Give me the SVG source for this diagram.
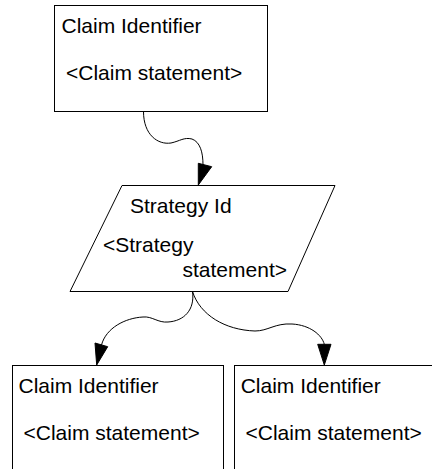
<svg xmlns="http://www.w3.org/2000/svg" width="432" height="469" viewBox="0 0 432 469">
  <style>
    .box { fill: #ffffff; stroke: #000000; stroke-width: 1; }
    .lbl { font-family: "Liberation Sans", Arial, sans-serif; font-size: 21px; fill: #000000; }
    .wire { fill: none; stroke: #000000; stroke-width: 1; }
    .head { fill: #000000; stroke: #000000; stroke-width: 1; stroke-linejoin: miter; }
  </style>
  <rect width="432" height="469" fill="#ffffff"/>

  <!-- goal at the top -->
  <g id="claim-top">
    <rect class="box" x="54.5" y="5.5" width="213" height="106"/>
    <text class="lbl" x="61.5" y="33">Claim Identifier</text>
    <text class="lbl" x="66" y="80">&lt;Claim statement&gt;</text>
  </g>

  <!-- strategy parallelogram -->
  <g id="strategy">
    <polygon class="box" points="122,185.5 335,185.5 288,291.5 70,291.5"/>
    <text class="lbl" x="130" y="212.5">Strategy Id</text>
    <text class="lbl" x="103" y="251.5">&lt;Strategy</text>
    <text class="lbl" x="182.5" y="277">statement&gt;</text>
  </g>

  <!-- sub-goals -->
  <g id="claim-left">
    <rect class="box" x="12.5" y="365.5" width="211" height="140"/>
    <text class="lbl" x="18.5" y="392.5">Claim Identifier</text>
    <text class="lbl" x="23.5" y="439.5">&lt;Claim statement&gt;</text>
  </g>
  <g id="claim-right">
    <rect class="box" x="234.5" y="365.5" width="230" height="140"/>
    <text class="lbl" x="240.7" y="392.5">Claim Identifier</text>
    <text class="lbl" x="245.5" y="439.5">&lt;Claim statement&gt;</text>
  </g>

  <!-- connectors -->
  <g id="connectors">
    <path class="wire" d="M143.5,111.5 C143.5,135 158,145 171,143 C180,141 184,137 192,139 C200,142 203,152 203,165"/>
    <polygon class="head" points="198.3,163.3 211.7,166.7 198.3,185"/>

    <path class="wire" d="M192.5,291.5 C195,310 184,321 168,322 C158,323 152,316 143,317 C125,318 106,328 101.5,345"/>
    <polygon class="head" points="95,343 107.7,346.7 96.7,365"/>

    <path class="wire" d="M192.5,291.5 C200,315 225,330 255,331 C268,331 275,323 292,324 C310,325 322,335 324.3,344.3"/>
    <polygon class="head" points="317.7,344.3 331,344.3 324.3,365"/>
  </g>
</svg>
